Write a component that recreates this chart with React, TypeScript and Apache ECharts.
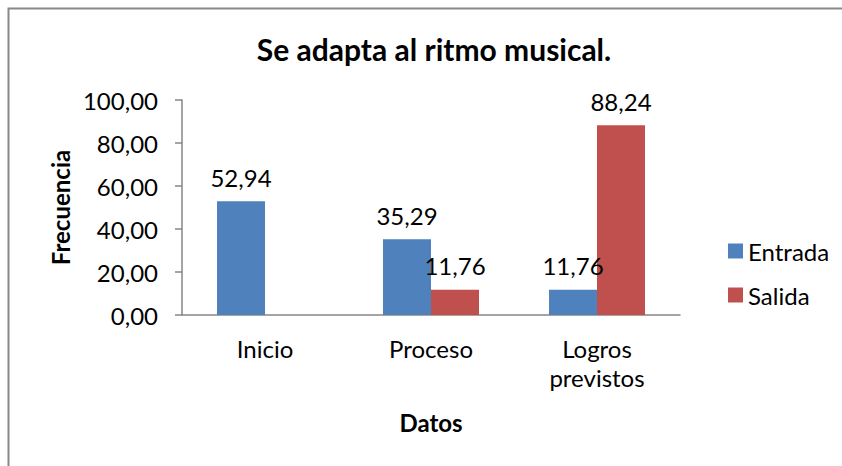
import React, { useEffect, useRef } from "react";
import * as echarts from "echarts";

const categories = ["Inicio", "Proceso", "Logros previstos"];
const entrada = [52.94, 35.29, 11.76];
const salida = [null, 11.76, 88.24];
const yTicks = { min: 0, max: 100, interval: 20 };

const FONT = "Lato";
const FS = 24;
const fmt = (v: number) => v.toFixed(2).replace(".", ",");

export default function App() {
  const ref = useRef<HTMLDivElement>(null);
  useEffect(() => {
    const chart = echarts.init(ref.current!, undefined, { renderer: "svg" });
    const labelStyle = {
      show: true,
      position: "top" as const,
      distance: 12,
      color: "#000",
      fontFamily: FONT,
      fontSize: FS,
      formatter: (p: any) => fmt(p.value),
    };
    chart.setOption({
      animation: false,
      backgroundColor: "#fff",
      textStyle: { fontFamily: FONT },
      title: {
        text: "Se adapta al ritmo musical.",
        left: 429,
        top: 29,
        textAlign: "center",
        textStyle: { fontFamily: FONT, fontSize: 30, fontWeight: "bold", color: "#000" },
      },
      graphic: [
        {
          type: "rect",
          shape: { x: 8.5, y: 8.5, width: 1000, height: 1000 },
          style: { fill: "none", stroke: "#888", lineWidth: 2 },
          silent: true,
        },
      ],
      legend: {
        orient: "vertical",
        left: 723,
        top: 234,
        itemWidth: 15,
        itemHeight: 15,
        itemGap: 20,
        icon: "rect",
        textStyle: { fontFamily: FONT, fontSize: FS, color: "#000" },
        data: ["Entrada", "Salida"],
      },
      grid: { left: 182, top: 100, right: 162, bottom: 151, containLabel: false },
      xAxis: {
        type: "category",
        data: categories,
        name: "Datos",
        nameLocation: "middle",
        nameGap: 95,
        nameTextStyle: { fontFamily: FONT, fontSize: FS, fontWeight: "bold", color: "#000" },
        axisLine: { lineStyle: { color: "#868686", width: 1.5 } },
        axisTick: { show: false },
        axisLabel: {
          margin: 19,
          color: "#000",
          fontFamily: FONT,
          fontSize: FS,
          lineHeight: 29,
          interval: 0,
          formatter: (v: string) => v.replace(" ", "\n"),
        },
        splitLine: { show: false },
      },
      yAxis: {
        type: "value",
        min: yTicks.min,
        max: yTicks.max,
        interval: yTicks.interval,
        name: "Frecuencia",
        nameLocation: "middle",
        nameGap: 109,
        nameRotate: 90,
        nameTextStyle: { fontFamily: FONT, fontSize: FS, fontWeight: "bold", color: "#000" },
        axisLine: { show: true, lineStyle: { color: "#868686", width: 1.5 } },
        axisTick: { show: true, length: 7, lineStyle: { color: "#868686", width: 1.5 } },
        axisLabel: {
          margin: 24,
          color: "#000",
          fontFamily: FONT,
          fontSize: FS,
          formatter: (v: number) => fmt(v),
        },
        splitLine: { show: false },
      },
      series: [
        {
          name: "Entrada",
          type: "bar",
          data: entrada,
          barWidth: 48,
          barGap: "0%",
          itemStyle: { color: "#4F81BD" },
          label: labelStyle,
        },
        {
          name: "Salida",
          type: "bar",
          data: salida,
          barWidth: 48,
          barGap: "0%",
          itemStyle: { color: "#C0504D" },
          label: labelStyle,
        },
      ],
    });
    return () => chart.dispose();
  }, []);
  return (
    <div
      ref={ref}
      style={{ position: "absolute", left: 0, top: 0, width: 842, height: 466 }}
    />
  );
}
